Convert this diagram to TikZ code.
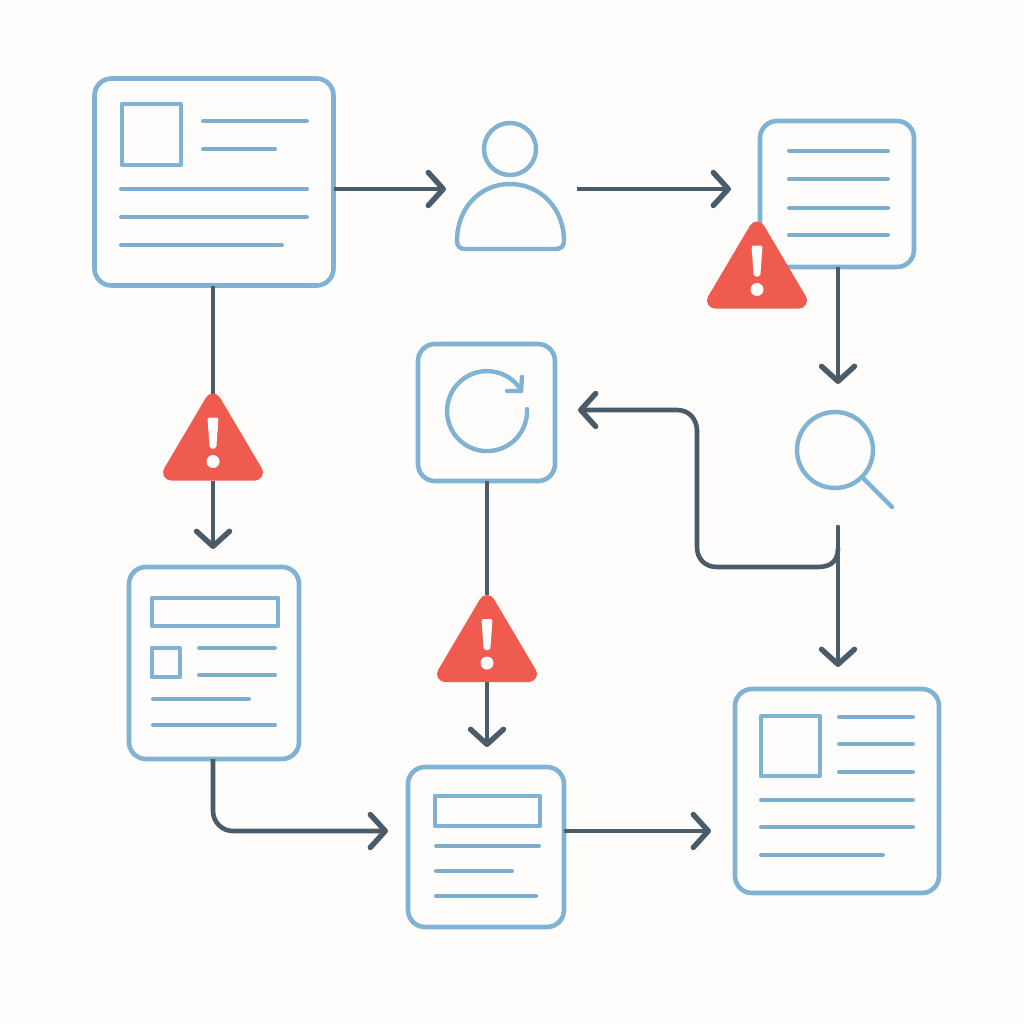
\documentclass[tikz,border=0pt]{standalone}
\usetikzlibrary{arrows.meta,calc}
\definecolor{bgc}{HTML}{FEFDFB}
\definecolor{bluec}{HTML}{7FB2D3}
\definecolor{linec}{HTML}{7DAECE}
\definecolor{darkc}{HTML}{4A5B6A}
\definecolor{redc}{HTML}{EF5B4E}
\tikzset{
  card/.style={draw=bluec,line width=4.6pt,fill=bgc,rounded corners=17pt,inner sep=0pt,outer sep=0pt},
  bar/.style={draw=linec,line width=4pt,line cap=round},
  icon/.style={draw=bluec,line width=4.4pt,line cap=round,line join=round},
  anchorbox/.style={inner sep=0pt,outer sep=0pt},
  flow/.style={draw=darkc,line width=4.6pt},
  flowto/.style={flow,-{Straight Barb[length=15pt,width=33pt,line width=5.4pt,round]}},
}
\newcommand{\warnglyph}[1]{%
  \begin{scope}[shift={(#1.north)}]
    \fill[redc,draw=redc,line width=16pt,line join=round] (0,8) -- (42,79) -- (-42,79) -- cycle;
    \fill[white,draw=white,line width=4pt,line join=round] (-3.4,26) -- (3.4,26) -- (1.4,53) -- (-1.4,53) -- cycle;
    \fill[white] (0,68) circle (6.5);
  \end{scope}}
\begin{document}
\begin{tikzpicture}[x=1pt,y=-1pt]
\useasboundingbox (0,0) rectangle (1024,1024);
\fill[bgc] (0,0) rectangle (1024,1024);
% cards
\node[card,minimum width=239pt,minimum height=207pt] (A) at (214,182) {};
\node[anchorbox,minimum width=110pt,minimum height=130pt] (P) at (510,189) {};
\node[card,minimum width=154pt,minimum height=146pt] (C) at (837,194) {};
\node[card,minimum width=137pt,minimum height=137pt] (R) at (486.5,412.5) {};
\node[anchorbox,minimum width=110pt,minimum height=100pt] (M) at (838,460) {};
\node[card,minimum width=170pt,minimum height=192pt] (E) at (214,663) {};
\node[card,minimum width=156pt,minimum height=160pt] (F) at (486,847) {};
\node[card,minimum width=204pt,minimum height=204pt] (D) at (837,791) {};
\node[anchorbox,minimum width=100pt,minimum height=87pt] (W1) at (213,437) {};
\node[anchorbox,minimum width=100pt,minimum height=87pt] (W2) at (757,265) {};
\node[anchorbox,minimum width=100pt,minimum height=87pt] (W3) at (487,638.5) {};
\coordinate (branch) at (838,548);
\coordinate (bend1) at (697,567);
\coordinate (bend2) at (697,410);
% card A contents
\draw[icon] (122,104) rectangle (181,165);
\foreach \xa/\xb/\yy in {203/307/121,203/275/149,121/307/189,121/307/217,121/282/245}
  \draw[bar] (\xa,\yy) -- (\xb,\yy);
% person
\draw[icon] (510,149) circle (26);
\draw[icon] (465,249) -- (556,249) .. controls (561,249) and (564,246) .. (564,241) .. controls (564,208) and (540,184) .. (510,184) .. controls (480,184) and (457,208) .. (457,241) .. controls (457,246) and (460,249) .. (465,249) -- cycle;
% card C contents
\foreach \yy in {151,179,208,235} \draw[bar] (789,\yy) -- (888,\yy);
% refresh
\draw[icon] (527,409) arc[start angle=-3,end angle=329,radius=40];
\draw[icon] (522,377) -- (521,391) -- (507,391);
% magnifier
\draw[icon] (835,450) circle (38);
\draw[icon] (863,478) -- (892,507);
% card E contents
\draw[icon] (152,598) rectangle (278,626);
\draw[icon] (152,648) rectangle (180,677);
\foreach \xa/\xb/\yy in {199/275/648,199/275/675,153/249/699,153/275/725}
  \draw[bar] (\xa,\yy) -- (\xb,\yy);
% card F contents
\draw[icon] (435,796) rectangle (540,826);
\foreach \xa/\xb/\yy in {436/539/846,436/512/871,436/536/896}
  \draw[bar] (\xa,\yy) -- (\xb,\yy);
% card D contents
\draw[icon] (761,716) rectangle (820,776);
\foreach \xa/\xb/\yy in {839/913/717,839/913/744,839/913/772,761/913/800,761/913/827,761/883/855}
  \draw[bar] (\xa,\yy) -- (\xb,\yy);
% connectors
\draw[flowto,shorten >=9pt] (A.east |- P.center) -- (P.west);
\draw[flowto,shorten <=12pt,shorten >=29pt] (P.east) -- (C.west |- P.center);
\draw[flowto,shorten >=26pt] (C.south) ++(1,0) -- (M.north);
\draw[flowto,line cap=round,shorten <=17pt,shorten >=22pt] (M.south) -- (M.south |- D.north);
\draw[flow] (branch) .. controls (838,560) and (832,567) .. (818,567) -- (717,567) .. controls (705,567) and (697,559) .. (697,547) -- (697,430);
\draw[flowto] (697,431) .. controls (697,419) and (689,410) .. (677,410) -- ([xshift=23pt]R.east |- bend2);
\draw[flow] (A.south -| W1.north) -- (W1.north);
\draw[flowto,shorten >=18pt] (W1.south) -- (W1.south |- E.north);
\draw[flow] (R.south -| W3.north) -- (W3.north);
\draw[flowto,shorten >=20pt] (W3.south) -- (W3.south |- F.north);
\draw[flowto,rounded corners=20pt] (E.south -| W1.south) |- ([xshift=-20pt,yshift=16pt]F.west);
\draw[flowto,shorten >=24pt] ([yshift=16pt]F.east) -- (D.west |- {$(F.east)+(0,-16)$});
% warnings
\warnglyph{W1}
\warnglyph{W2}
\warnglyph{W3}
\end{tikzpicture}
\end{document}
